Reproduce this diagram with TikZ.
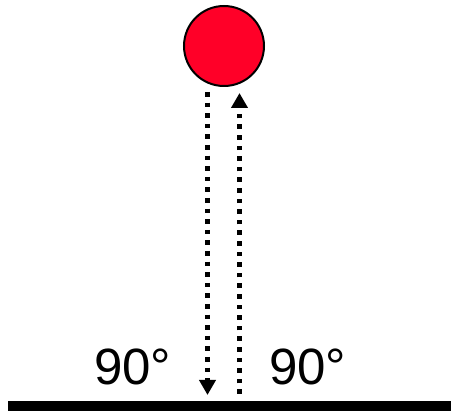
\documentclass[tikz,border=0pt]{standalone}
\usepackage{fontspec}
\setmainfont{Liberation Sans}
\usetikzlibrary{arrows.meta}
\definecolor{ballred}{HTML}{FF0028}
\begin{document}
\begin{tikzpicture}[x=1pt,y=-1pt,
  ray/.style={line width=4.6pt, dash pattern=on 4.6pt off 6pt, -{Triangle[width=16pt,length=15pt]}},
  lbl/.style={font=\fontsize{51}{51}\selectfont, inner sep=0pt, anchor=base west}]
\useasboundingbox (0,0) rectangle (451,411);
\node[circle, draw=black, line width=2pt, fill=ballred, minimum size=80pt, inner sep=0pt] (ball) at (224,46) {};
\fill[black] (8,401) rectangle (451,411);
\coordinate (gl) at (207.5,395);
\coordinate (gr) at (239.5,394);
\coordinate (bl) at (207.5,92);
\coordinate (br) at (239.5,93);
\draw[ray] (bl) -- (gl);
\draw[ray] (gr) -- (br);
\node[lbl] (a1) at (94,385) {90°};
\node[lbl] (a2) at (269,385) {90°};
\end{tikzpicture}
\end{document}
